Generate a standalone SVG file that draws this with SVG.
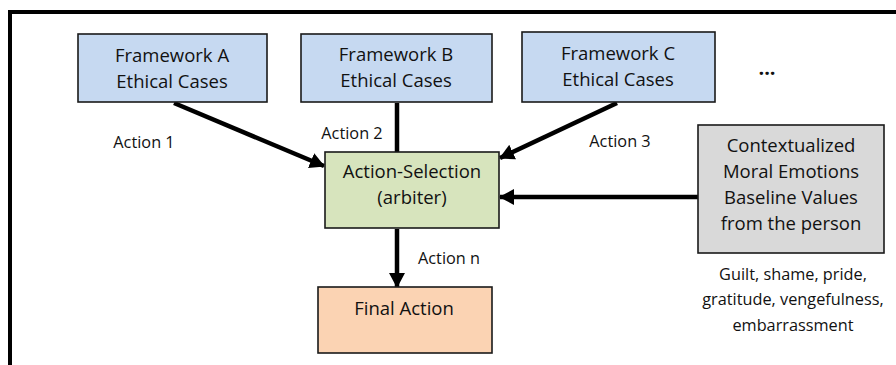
<svg xmlns="http://www.w3.org/2000/svg" width="896" height="365" viewBox="0 0 896 365">
<style>
.box{stroke:#1a1a1a;stroke-width:1.6}
.fw{fill:#c6d9f1}
.t{font-family:"Open Sans","Noto Sans",sans-serif;fill:#111;text-anchor:middle}
.b{font-size:18.5px}
.l{font-size:16.3px}
.c{stroke:#000;stroke-width:4.5;fill:none}
</style>
<defs>
<marker id="ah" markerWidth="15" markerHeight="16" refX="14" refY="8" orient="auto" markerUnits="userSpaceOnUse">
<path d="M0,0 L15,8 L0,16 Z" fill="#000"/>
</marker>
</defs>
<rect width="896" height="365" fill="#fff"/>
<path d="M10,365 V12 H896" fill="none" stroke="#000" stroke-width="4"/>
<g id="connectors">
<line class="c" x1="174" y1="103" x2="324" y2="166" marker-end="url(#ah)"/>
<line class="c" x1="397" y1="103" x2="397" y2="152"/>
<line class="c" x1="617" y1="103" x2="500" y2="158" marker-end="url(#ah)"/>
<line class="c" x1="698" y1="197" x2="500" y2="197" marker-end="url(#ah)" stroke-width="5.5"/>
<line class="c" x1="397" y1="229" x2="397" y2="287" marker-end="url(#ah)"/>
<text class="t l" x="144" y="148">Action 1</text>
<text class="t l" x="352" y="139">Action 2</text>
<text class="t l" x="620" y="147">Action 3</text>
<text class="t l" x="449" y="264">Action n</text>
</g>
<g id="frameworkA">
<rect class="box fw" x="78" y="34" width="189" height="68"/>
<text class="t b" x="172" y="62">Framework A</text>
<text class="t b" x="172" y="88">Ethical Cases</text>
</g>
<g id="frameworkB">
<rect class="box fw" x="301" y="34" width="191" height="68"/>
<text class="t b" x="396" y="61">Framework B</text>
<text class="t b" x="396" y="87">Ethical Cases</text>
</g>
<g id="frameworkC">
<rect class="box fw" x="522" y="32" width="193" height="70"/>
<text class="t b" x="618" y="60">Framework C</text>
<text class="t b" x="618" y="86">Ethical Cases</text>
</g>
<g id="more">
<text class="t" x="767" y="75" font-size="20" font-weight="bold">...</text>
</g>
<g id="actionSelection">
<rect class="box" x="325" y="152" width="174" height="76" fill="#d7e4bd"/>
<text class="t b" x="412" y="178">Action-Selection</text>
<text class="t b" x="412" y="204">(arbiter)</text>
</g>
<g id="finalAction">
<rect class="box" x="318" y="287" width="174" height="66" fill="#fbd3b3"/>
<text class="t b" x="404" y="315">Final Action</text>
</g>
<g id="context">
<rect class="box" x="698" y="125" width="186" height="128" fill="#d9d9d9"/>
<text class="t b" x="791" y="152">Contextualized</text>
<text class="t b" x="791" y="178">Moral Emotions</text>
<text class="t b" x="791" y="204">Baseline Values</text>
<text class="t b" x="791" y="230">from the person</text>
</g>
<g id="emotions">
<text class="t l" x="793" y="280">Guilt, shame, pride,</text>
<text class="t l" x="793" y="305">gratitude, vengefulness,</text>
<text class="t l" x="793" y="331">embarrassment</text>
</g>
</svg>
